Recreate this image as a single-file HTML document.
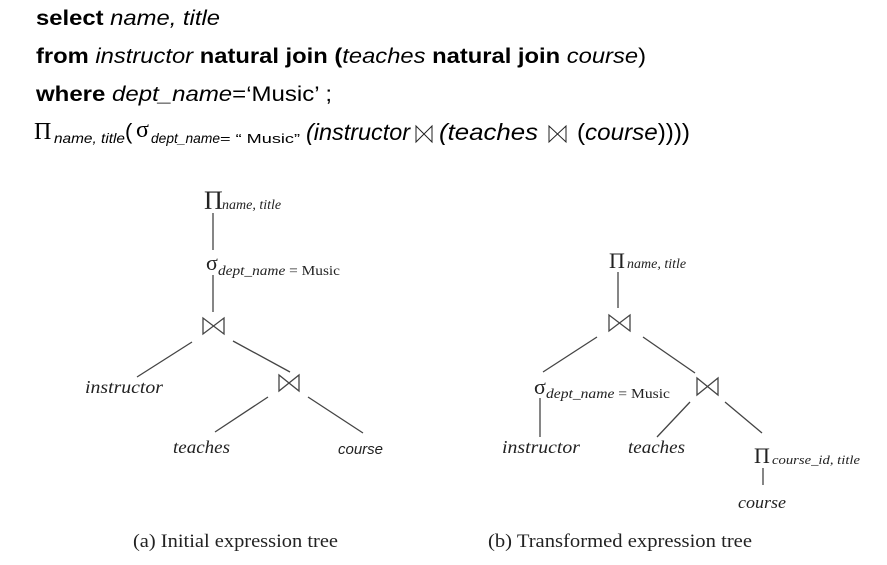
<!DOCTYPE html>
<html><head><meta charset="utf-8"><style>
html,body{margin:0;padding:0;background:#fff;width:887px;height:565px;overflow:hidden}
svg{display:block}
.s{font-family:"Liberation Sans",Arial,sans-serif;fill:#000}
.t{font-family:"Liberation Serif","Times New Roman",serif;fill:#222}
</style></head><body>
<svg width="887" height="565" viewBox="0 0 887 565">
<g class="s" font-size="21">
<text x="36" y="25" textLength="184" lengthAdjust="spacingAndGlyphs"><tspan font-weight="bold">select </tspan><tspan font-style="italic">name, title</tspan></text>
<text x="36" y="63" textLength="610" lengthAdjust="spacingAndGlyphs"><tspan font-weight="bold">from </tspan><tspan font-style="italic">instructor </tspan><tspan font-weight="bold">natural join (</tspan><tspan font-style="italic">teaches </tspan><tspan font-weight="bold">natural join </tspan><tspan font-style="italic">course</tspan>)</text>
<text x="36" y="101" textLength="296" lengthAdjust="spacingAndGlyphs"><tspan font-weight="bold">where </tspan><tspan font-style="italic">dept_name</tspan>=‘Music’ ;</text>
</g>
<g class="s">
<text x="34" y="139" font-family="Liberation Serif,serif" font-size="24">Π</text>
<text x="54" y="143" font-size="14" font-style="italic" textLength="71" lengthAdjust="spacingAndGlyphs">name, title</text>
<text x="125" y="139" font-size="22">(</text>
<text x="136" y="137" font-family="Liberation Serif,serif" font-size="24">σ</text>
<text x="151" y="143" font-size="14" font-style="italic" textLength="69" lengthAdjust="spacingAndGlyphs">dept_name</text>
<text x="220" y="143" font-size="13" textLength="80" lengthAdjust="spacingAndGlyphs">= “ Music”</text>
<text x="306" y="140" font-size="23" font-style="italic" textLength="104" lengthAdjust="spacingAndGlyphs">(instructor</text>
<text x="439" y="140" font-size="23" font-style="italic" textLength="99" lengthAdjust="spacingAndGlyphs">(teaches</text>
<text x="577" y="140" font-size="23" textLength="113" lengthAdjust="spacingAndGlyphs">(<tspan font-style="italic">course</tspan>))))</text>
</g>
<g fill="none" stroke="#222" stroke-width="1">
<path d="M416,126 V142 L432,126 V142 Z"/>
<path d="M549,126 V142 L566,126 V142 Z"/>
</g>
<!-- left tree -->
<g stroke="#444" stroke-width="1.3" fill="none">
<line x1="213" y1="213" x2="213" y2="250"/>
<line x1="213" y1="275" x2="213" y2="312"/>
<path d="M203,318 V334 L224,318 V334 Z"/>
<line x1="192" y1="342" x2="137" y2="377"/>
<line x1="233" y1="341" x2="290" y2="372"/>
<path d="M279,375 V391 L299,375 V391 Z"/>
<line x1="268" y1="397" x2="215" y2="432"/>
<line x1="308" y1="397" x2="363" y2="433"/>
</g>
<g class="t">
<text x="204" y="209" font-size="26">Π</text>
<text x="222" y="209" font-size="14" font-style="italic">name, title</text>
<text x="206" y="270" font-size="22">σ</text>
<text x="218" y="275" font-size="14" textLength="122" lengthAdjust="spacingAndGlyphs"><tspan font-style="italic">dept_name</tspan> = Music</text>
<text x="85" y="393" font-size="18" font-style="italic" textLength="78" lengthAdjust="spacingAndGlyphs">instructor</text>
<text x="173" y="453" font-size="18" font-style="italic" textLength="57" lengthAdjust="spacingAndGlyphs">teaches</text>
<text x="338" y="454" font-size="15" font-style="italic" font-family="Liberation Sans,sans-serif">course</text>
</g>
<!-- right tree -->
<g stroke="#444" stroke-width="1.3" fill="none">
<line x1="618" y1="272" x2="618" y2="308"/>
<path d="M609,315 V331 L630,315 V331 Z"/>
<line x1="597" y1="337" x2="543" y2="372"/>
<line x1="643" y1="337" x2="695" y2="373"/>
<line x1="540" y1="398" x2="540" y2="437"/>
<path d="M697,378 V395 L718,378 V395 Z"/>
<line x1="690" y1="402" x2="657" y2="437"/>
<line x1="725" y1="402" x2="762" y2="433"/>
<line x1="763" y1="468" x2="763" y2="485"/>
</g>
<g class="t">
<text x="609" y="268" font-size="22">Π</text>
<text x="627" y="268" font-size="14" font-style="italic">name, title</text>
<text x="534" y="394" font-size="22">σ</text>
<text x="546" y="398" font-size="14" textLength="124" lengthAdjust="spacingAndGlyphs"><tspan font-style="italic">dept_name</tspan> = Music</text>
<text x="502" y="453" font-size="18" font-style="italic" textLength="78" lengthAdjust="spacingAndGlyphs">instructor</text>
<text x="628" y="453" font-size="18" font-style="italic" textLength="57" lengthAdjust="spacingAndGlyphs">teaches</text>
<text x="754" y="463" font-size="22">Π</text>
<text x="772" y="464" font-size="13" font-style="italic" textLength="88" lengthAdjust="spacingAndGlyphs">course_id, title</text>
<text x="738" y="508" font-size="17" font-style="italic" textLength="48" lengthAdjust="spacingAndGlyphs">course</text>
<text x="133" y="547" font-size="19" textLength="205" lengthAdjust="spacingAndGlyphs">(a) Initial expression tree</text>
<text x="488" y="547" font-size="19" textLength="264" lengthAdjust="spacingAndGlyphs">(b) Transformed expression tree</text>
</g>
</svg>
</body></html>
